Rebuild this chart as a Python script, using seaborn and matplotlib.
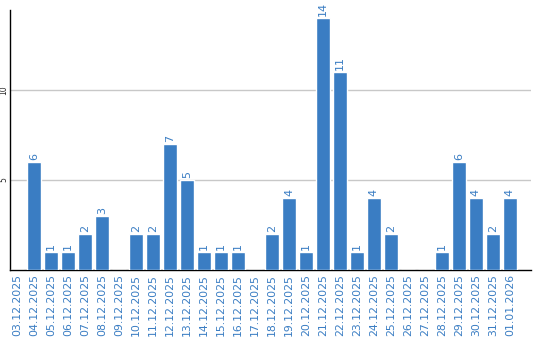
import matplotlib
matplotlib.use("Agg")
import matplotlib.pyplot as plt
import seaborn as sns
import pandas as pd

dates = ["03.12.2025", "04.12.2025", "05.12.2025", "06.12.2025", "07.12.2025",
         "08.12.2025", "09.12.2025", "10.12.2025", "11.12.2025", "12.12.2025",
         "13.12.2025", "14.12.2025", "15.12.2025", "16.12.2025", "17.12.2025",
         "18.12.2025", "19.12.2025", "20.12.2025", "21.12.2025", "22.12.2025",
         "23.12.2025", "24.12.2025", "25.12.2025", "26.12.2025", "27.12.2025",
         "28.12.2025", "29.12.2025", "30.12.2025", "31.12.2025", "01.01.2026"]
values = [0, 6, 1, 1, 2, 3, 0, 2, 2, 7, 5, 1, 1, 1, 0, 2, 4, 1, 14, 11,
          1, 4, 2, 0, 0, 1, 6, 4, 2, 4]
yticks = [5, 10]

blue = "#3a7dc3"
sns.set_style("white")
plt.rcParams['font.family'] = ['DejaVu Sans']

df = pd.DataFrame({"date": dates, "value": values})
fig = plt.figure(figsize=(5.4, 3.4), dpi=100)
ax = fig.add_axes([10/540, 70/340, 521/540, 260/340])
sns.barplot(data=df, x="date", y="value", color=blue, saturation=1,
            width=0.82, ax=ax, zorder=3)
for i, v in enumerate(values):
    if v > 0:
        ax.text(i, v + 0.12, str(v), rotation=90, ha="center", va="bottom",
                color=blue, fontsize=8)
ax.set_xlim(-0.41, 30.24)
ax.set_ylim(0, 14.45)
ax.set_yticks(yticks)
ax.set_yticklabels([str(t) for t in yticks], rotation=90, va="center", fontsize=5.5)
ax.yaxis.grid(True, color="#c8c8c8", linewidth=1, zorder=0)
ax.tick_params(axis="both", length=0)
ax.tick_params(axis="y", pad=1)
ax.tick_params(axis="x", labelrotation=90, labelcolor=blue, labelsize=7.8, pad=3)
for lbl in ax.get_xticklabels():
    lbl.set_va("top")
ax.set_xlabel("")
ax.set_ylabel("")
for s in ["top", "right"]:
    ax.spines[s].set_visible(False)
for s in ["left", "bottom"]:
    ax.spines[s].set_color("black")
    ax.spines[s].set_linewidth(1)
fig.savefig("out.png", dpi=100)
